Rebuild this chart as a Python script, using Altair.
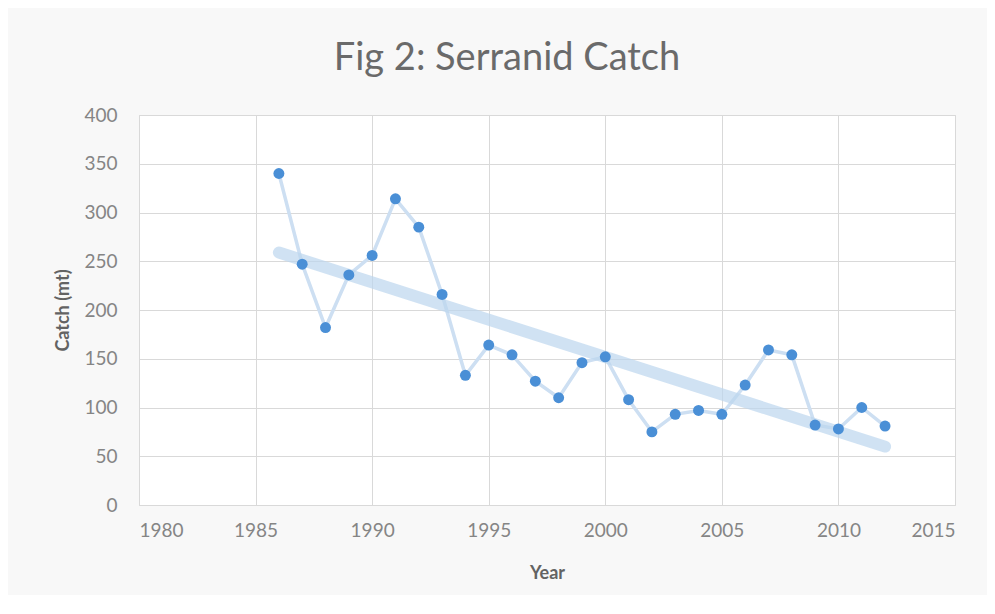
import altair as alt
import pandas as pd

years = list(range(1986, 2013))
catch = [340, 247, 182, 236, 256, 314, 285, 216, 133, 164, 154, 127, 110, 146, 152,
         108, 75, 93, 97, 93, 123, 159, 154, 82, 78, 100, 81]

df = pd.DataFrame({"Year": years, "Catch": catch})

FONT = "Lato"

x = alt.X("Year:Q", scale=alt.Scale(domain=[1980, 2015], nice=False),
          axis=alt.Axis(values=list(range(1980, 2016, 5)), format="d", title="Year"))
y = alt.Y("Catch:Q", scale=alt.Scale(domain=[0, 400], nice=False),
          axis=alt.Axis(values=list(range(0, 401, 50)), title="Catch (mt)"))

base = alt.Chart(df)

line = base.mark_line(color="#cddff2", strokeWidth=3.5).encode(x=x, y=y)
trend = base.transform_regression("Year", "Catch").mark_line(
    color="#bcd5ee", strokeWidth=12, strokeCap="round", opacity=0.7
).encode(x=x, y=y)
pts = base.mark_circle(color="#4a8fd6", size=120, opacity=1).encode(x=x, y=y)

chart = alt.layer(line, trend, pts).properties(
    width=816, height=390,
    title=alt.TitleParams("Fig 2: Serranid Catch", font=FONT, fontSize=38,
                          fontWeight="normal", color="#6a6a6a", offset=28, dx=-40),
    autosize=alt.AutoSizeParams(type="none"),
    padding={"left": 131, "top": 107, "right": 32, "bottom": 90},
    background="#f8f8f8",
).configure_view(
    stroke="#d9d9d9", fill="#ffffff"
).configure_axis(
    labelFont=FONT, labelFontSize=19, labelColor="#858585",
    titleFont=FONT, titleFontSize=18, titleColor="#636363", titleFontWeight="bold",
    grid=True, gridColor="#d9d9d9", domain=False, ticks=False,
).configure_axisX(
    labelPadding=16, titlePadding=24
).configure_axisY(
    labelPadding=22, titlePadding=11
)

chart.save("out.html", embed_options={"renderer": "svg", "actions": False})
